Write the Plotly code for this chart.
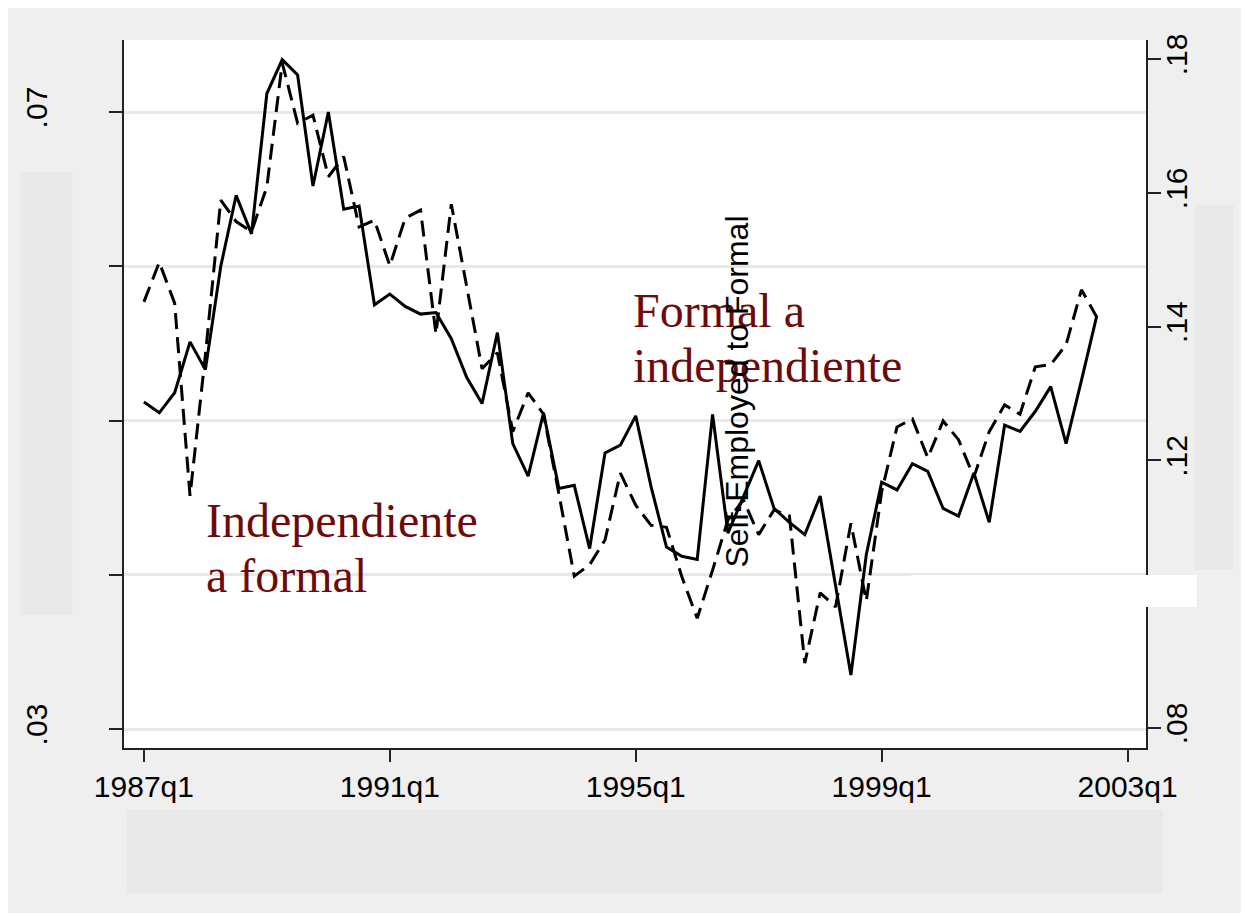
import plotly.graph_objects as go

# ---------------- data ----------------
quarters = [f"{y}q{q}" for y in range(1987, 2003) for q in range(1, 5)][:63]

# solid line (left axis)
indep_a_formal = [
    0.0512, 0.0505, 0.0518, 0.0551, 0.0533, 0.0600, 0.0646, 0.0621, 0.0712, 0.0734,
    0.0724, 0.0652, 0.0700, 0.0637, 0.0639, 0.0575, 0.0582, 0.0574, 0.0569, 0.0570,
    0.0553, 0.0528, 0.0511, 0.0557, 0.0485, 0.0464, 0.0505, 0.0456, 0.0458, 0.0417,
    0.0479, 0.0484, 0.0503, 0.0457, 0.0418, 0.0412, 0.0410, 0.0504, 0.0427, 0.0451,
    0.0474, 0.0443, 0.0434, 0.0426, 0.0451, 0.0393, 0.0335, 0.0413, 0.0460, 0.0455,
    0.0472, 0.0467, 0.0443, 0.0438, 0.0466, 0.0434, 0.0497, 0.0493, 0.0506, 0.0522,
    0.0485, 0.0526, 0.0568,
]

# dashed line (right axis)
formal_a_indep = [
    0.1437, 0.1496, 0.1435, 0.1147, 0.1358, 0.1589, 0.1557, 0.1542, 0.1609, 0.1794,
    0.1704, 0.1716, 0.1624, 0.1654, 0.1549, 0.1559, 0.1491, 0.1562, 0.1574, 0.1389,
    0.1583, 0.1462, 0.1337, 0.1361, 0.1243, 0.1301, 0.1269, 0.1150, 0.1027, 0.1044,
    0.1081, 0.1181, 0.1133, 0.1103, 0.1100, 0.1026, 0.0964, 0.1036, 0.1111, 0.1141,
    0.1089, 0.1126, 0.1117, 0.0897, 0.1002, 0.0981, 0.1106, 0.0990, 0.1153, 0.1250,
    0.1262, 0.1204, 0.1259, 0.1231, 0.1175, 0.1243, 0.1283, 0.1269, 0.1340, 0.1343,
    0.1373, 0.1455, 0.1414,
]

x_tick_pos = [0, 16, 32, 48, 64]
x_tick_text = ["1987q1", "1991q1", "1995q1", "1999q1", "2003q1"]
left_ticks = [0.03, 0.04, 0.05, 0.06, 0.07]
left_labels = [".03", "", "", "", ".07"]
right_ticks = [0.08, 0.10, 0.12, 0.14, 0.16, 0.18]
right_labels = [".08", "", ".12", ".14", ".16", ".18"]

# ---------------- geometry (reference pixel coords; page has an 8px body margin) ----------------
OFFX, OFFY = 8, 8
W, H = 1245 - OFFX, 913 - OFFY
PL, PR, PT, PB = 120, 1146, 40, 748


def px(x):
    return (x - PL) / (PR - PL)


def py(y):
    return (PB - y) / (PB - PT)


xs = list(range(len(quarters)))

fig = go.Figure()
fig.add_trace(go.Scatter(
    x=xs, y=indep_a_formal, mode="lines", name="Independiente a formal",
    line=dict(color="black", width=3), yaxis="y", hoverinfo="skip"))
fig.add_trace(go.Scatter(
    x=xs, y=formal_a_indep, mode="lines", name="Formal a independiente",
    line=dict(color="black", width=3, dash="16px,8px"), yaxis="y2", hoverinfo="skip"))

axis_color = "#222222"
tfont = dict(family="Liberation Sans, Arial, sans-serif", size=30, color="black")

fig.update_layout(
    width=W, height=H, autosize=False,
    margin=dict(l=PL - OFFX, r=(W + OFFX) - PR, t=PT - OFFY, b=(H + OFFY) - PB, pad=0),
    paper_bgcolor="#efefef", plot_bgcolor="white",
    showlegend=False,
    xaxis=dict(range=[-1.296, 65.2], tickvals=x_tick_pos, ticktext=x_tick_text,
               ticks="outside", ticklen=12, tickwidth=2, tickcolor=axis_color,
               showline=True, linecolor=axis_color, linewidth=2,
               showgrid=False, zeroline=False, tickfont=tfont, ticklabelstandoff=-1),
    yaxis=dict(range=[0.02877, 0.07467], tickvals=left_ticks, ticktext=left_labels,
               tickangle=-90, ticks="outside", ticklen=13, tickwidth=2, tickcolor=axis_color,
               showline=True, linecolor=axis_color, linewidth=2,
               showgrid=True, gridcolor="#e8e8e8", gridwidth=3, zeroline=False,
               tickfont=tfont, ticklabelstandoff=50),
    yaxis2=dict(range=[0.07701, 0.18284], tickvals=right_ticks, ticktext=right_labels,
                overlaying="y", side="right", tickangle=-90,
                ticks="outside", ticklen=13, tickwidth=2, tickcolor=axis_color,
                showline=True, linecolor=axis_color, linewidth=2,
                showgrid=False, zeroline=False, tickfont=tfont, ticklabelstandoff=-10),
)

shapes = []
# faint grey blocks in margins
for (x0, y0, x1, y1) in [(16, 172, 68, 615), (1195, 205, 1234, 570), (123, 810, 1163, 893)]:
    shapes.append(dict(type="rect", xref="paper", yref="paper",
                       x0=px(x0), x1=px(x1), y0=py(y1), y1=py(y0),
                       fillcolor="#e8e8e8", line=dict(width=0), layer="below"))
# white patch over the right axis near .10
shapes.append(dict(type="rect", xref="paper", yref="paper",
                   x0=px(910), x1=px(1197), y0=py(607), y1=py(575),
                   fillcolor="white", line=dict(width=0), layer="above"))
fig.update_layout(shapes=shapes)

red = "#6e0a0a"
serif = dict(family="Liberation Serif, Times New Roman, serif", size=48, color=red)
ann = []
for txt, x, yc in [("Independiente", 200, 520), ("a formal", 200, 575),
                   ("Formal a", 629, 310), ("independiente", 629, 365)]:
    ann.append(dict(text=txt, xref="paper", yref="paper", x=px(x), y=py(yc),
                    xanchor="left", yanchor="middle", showarrow=False, font=serif))
ann.append(dict(text="Self-Employed to Formal", xref="paper", yref="paper",
                x=px(735), y=py(392), xanchor="center", yanchor="middle",
                textangle=-90, showarrow=False,
                font=dict(family="Liberation Sans, Arial, sans-serif", size=32, color="black")))
fig.update_layout(annotations=ann)

fig.write_html("out.html")
